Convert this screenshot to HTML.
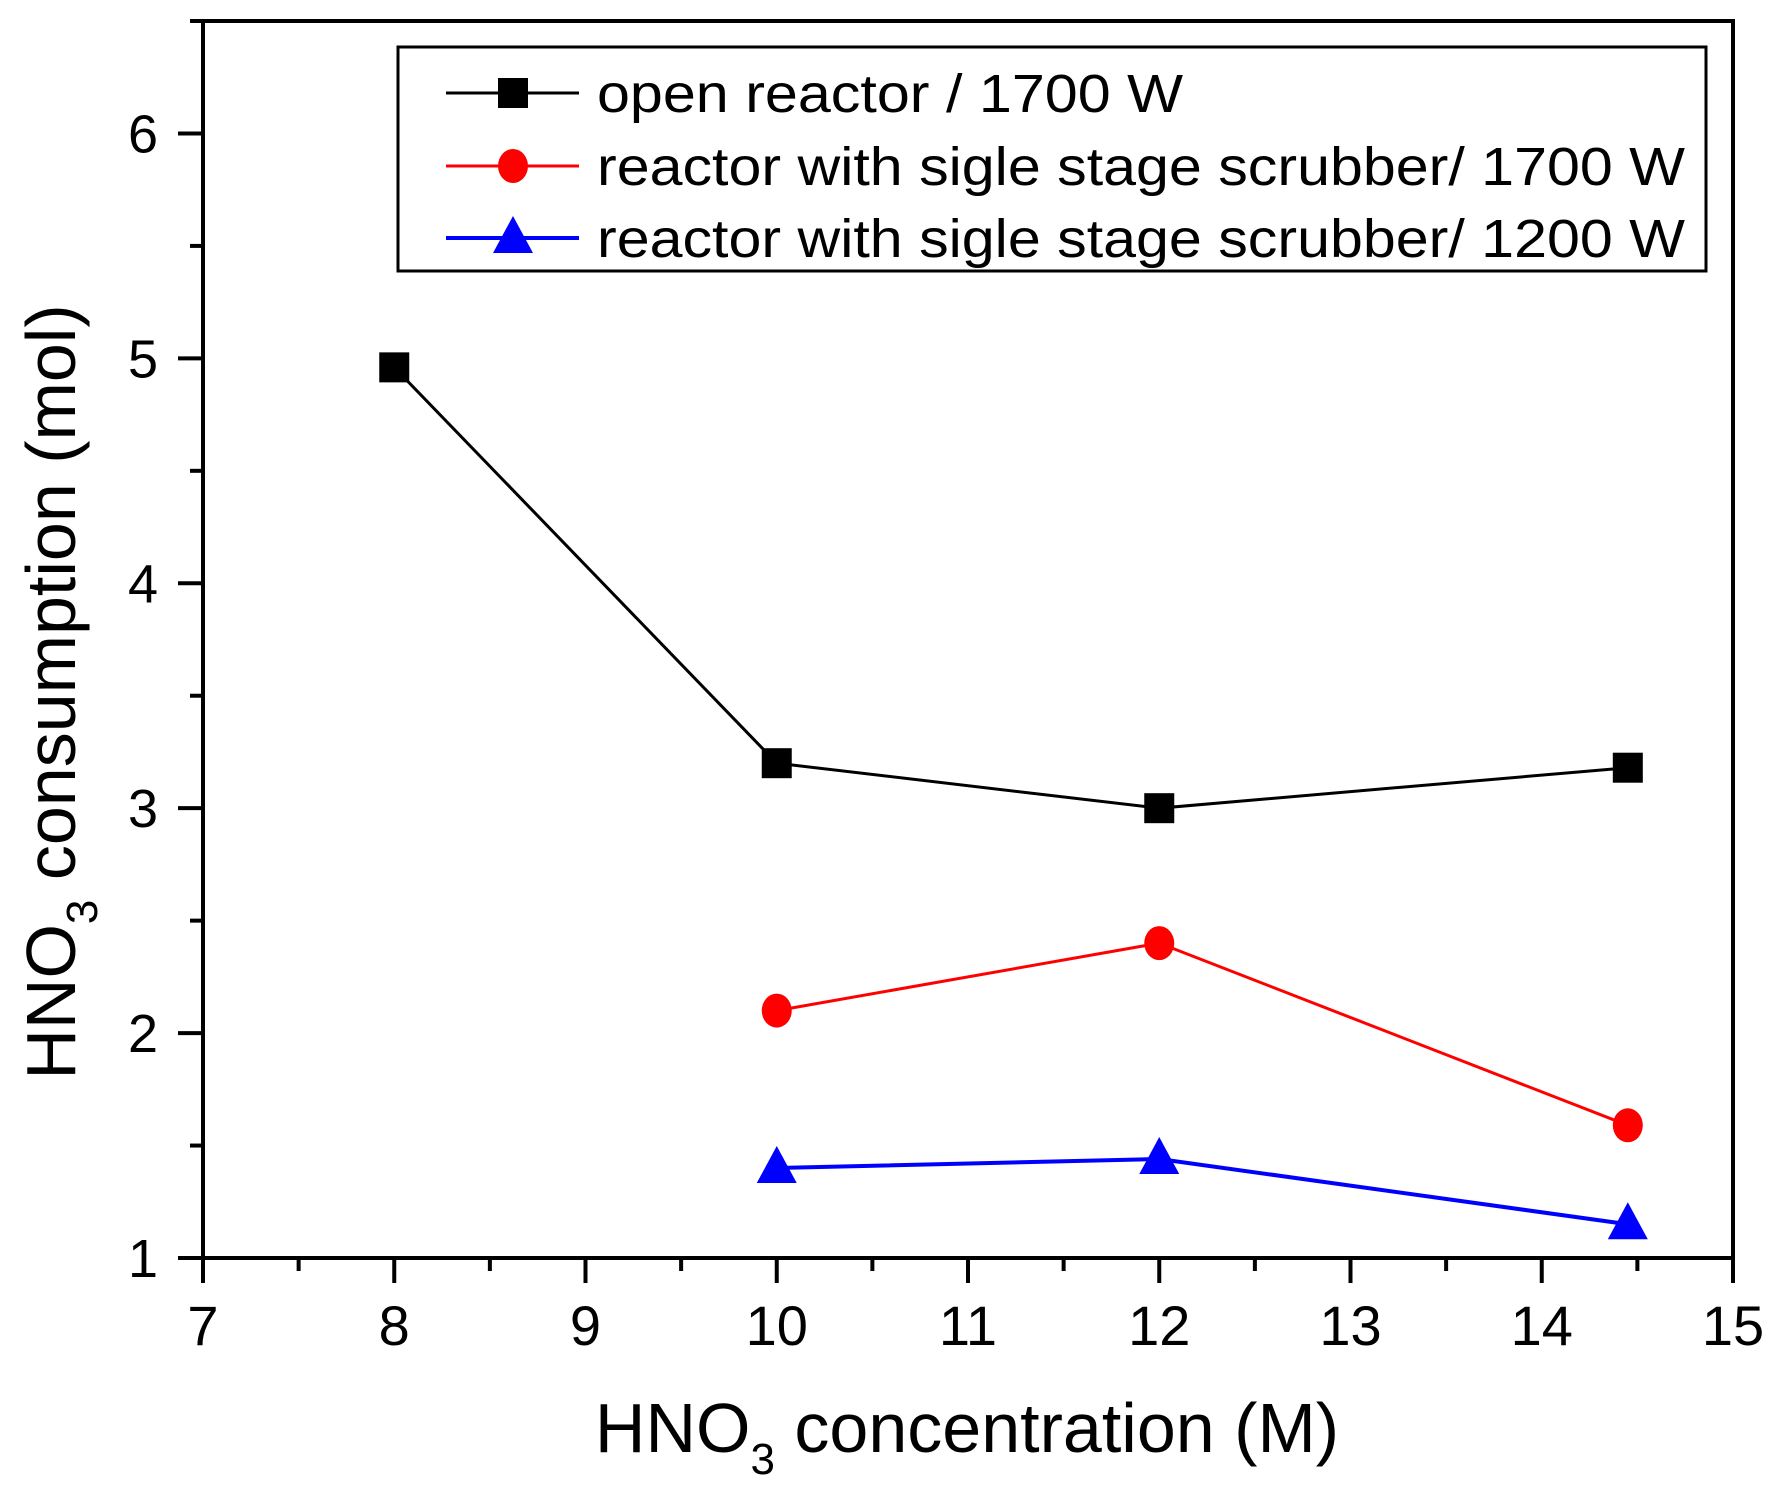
<!DOCTYPE html>
<html><head><meta charset="utf-8"><style>
html,body{margin:0;padding:0;background:#fff;}
svg{display:block;font-family:"Liberation Sans",Arial,sans-serif;}
</style></head><body>
<svg id="chart" width="1779" height="1494" viewBox="0 0 1779 1494" xmlns="http://www.w3.org/2000/svg">
<rect width="1779" height="1494" fill="#fff"/>
<g id="marks"></g>
<g id="axes"></g>
<g id="legend">
  <rect x="398" y="47" width="1308" height="224" fill="#fff" stroke="#000" stroke-width="3"/>
</g>
<text x="967" y="1452" font-size="70" text-anchor="middle">HNO<tspan font-size="44" dy="22">3</tspan><tspan dy="-22"> concentration (M)</tspan></text>
<text transform="translate(75,692) rotate(-90)" font-size="70" text-anchor="middle">HNO<tspan font-size="44" dy="22">3</tspan><tspan dy="-22"> consumption (mol)</tspan></text>
</svg>
<script>
const categoriesX = [8, 10, 12, 14.45];
const openReactor1700 = [4.96, 3.2, 3.0, 3.18];
const xScrub1700 = [10, 12, 14.45];
const scrubber1700 = [2.1, 2.4, 1.59];
const xScrub1200 = [10, 12, 14.45];
const scrubber1200 = [1.4, 1.44, 1.15];
const xTicks = [7, 8, 9, 10, 11, 12, 13, 14, 15];
const yTicks = [1, 2, 3, 4, 5, 6];
const legendLabels = ["open reactor / 1700 W", "reactor with sigle stage scrubber/ 1700 W", "reactor with sigle stage scrubber/ 1200 W"];

const NS = "http://www.w3.org/2000/svg";
const L = 203, R = 1733, T = 21, B = 1258;
const xMin = 7, xMax = 15, yMin = 1, yMax = 6.5;
function sx(v){ return L + (v - xMin) / (xMax - xMin) * (R - L); }
function sy(v){ return B - (v - yMin) / (yMax - yMin) * (B - T); }
function mk(tag, attrs, parent){ const e = document.createElementNS(NS, tag); for (const k in attrs) e.setAttribute(k, attrs[k]); parent.appendChild(e); return e; }

const axes = document.getElementById('axes');
const marks = document.getElementById('marks');

const frame = mk('rect', {x:L, y:T, width:R-L, height:B-T, fill:'none', stroke:'#000', 'stroke-width':4}, axes);



xTicks.forEach((t, i) => {
  const x = sx(t);
  const tk = mk('line', {x1:x, y1:B, x2:x, y2:B+25, stroke:'#000', 'stroke-width':4}, axes);
  
  
  const lb = mk('text', {x:x, y:1345, 'font-size':56, 'text-anchor':'middle'}, axes);
  lb.textContent = t;
  
  
  if (i < xTicks.length - 1) {
    const mx = sx(t + 0.5);
    const mn = mk('line', {x1:mx, y1:B, x2:mx, y2:B+13, stroke:'#000', 'stroke-width':4}, axes);
    
    
  }
});
yTicks.forEach((t) => {
  const y = sy(t);
  const tk = mk('line', {x1:L-25, y1:y, x2:L, y2:y, stroke:'#000', 'stroke-width':4}, axes);
  
  
  const lb = mk('text', {x:158, y:y+19, 'font-size':54, 'text-anchor':'end'}, axes);
  lb.textContent = t;
  
  
  if (t + 0.5 <= yMax) {
    const my = sy(t + 0.5);
    const mn = mk('line', {x1:L-13, y1:my, x2:L, y2:my, stroke:'#000', 'stroke-width':4}, axes);
    
    
  }
});

function marker(shape, cx, cy, color, parent){
  let e;
  if (shape === 'square') e = mk('rect', {x:cx-15, y:cy-15, width:30, height:30, fill:color}, parent);
  else if (shape === 'circle') e = mk('ellipse', {cx:cx, cy:cy, rx:15, ry:17, fill:color}, parent);
  else e = mk('polygon', {points:`${cx},${cy-22} ${cx-20},${cy+15} ${cx+20},${cy+15}`, fill:color}, parent);
  return e;
}

const series = [
  {xs:categoriesX, ys:openReactor1700, color:'#000', shape:'square', w:3, name:'open-reactor-1700w'},
  {xs:xScrub1700, ys:scrubber1700, color:'#ff0000', shape:'circle', w:3, name:'scrubber-1700w'},
  {xs:xScrub1200, ys:scrubber1200, color:'#0000ff', shape:'triangle', w:4, name:'scrubber-1200w'}
];
series.forEach(s => {
  const pts = s.xs.map((x, i) => sx(x) + ',' + sy(s.ys[i])).join(' ');
  const pl = mk('polyline', {points:pts, fill:'none', stroke:s.color, 'stroke-width':s.w}, marks);
  
  
  s.xs.forEach((x, i) => {
    const m = marker(s.shape, sx(x), sy(s.ys[i]), s.color, marks);
    
    
  });
});

const legend = document.getElementById('legend');
const ly = [93, 166, 238];
series.forEach((s, i) => {
  const ln = mk('line', {x1:446, y1:ly[i], x2:579, y2:ly[i], stroke:s.color, 'stroke-width':s.w}, legend);
  
  
  const m = marker(s.shape, 513, ly[i], s.color, legend);
  
  
  const tx = mk('text', {x:597, y:ly[i]+19, 'font-size':54}, legend);
  tx.textContent = legendLabels[i];
  if (i > 0) { tx.setAttribute('textLength', 1088); tx.setAttribute('lengthAdjust', 'spacingAndGlyphs'); }
  else { tx.setAttribute('textLength', 586); tx.setAttribute('lengthAdjust', 'spacingAndGlyphs'); }
  
  
});
</script>
</body></html>
